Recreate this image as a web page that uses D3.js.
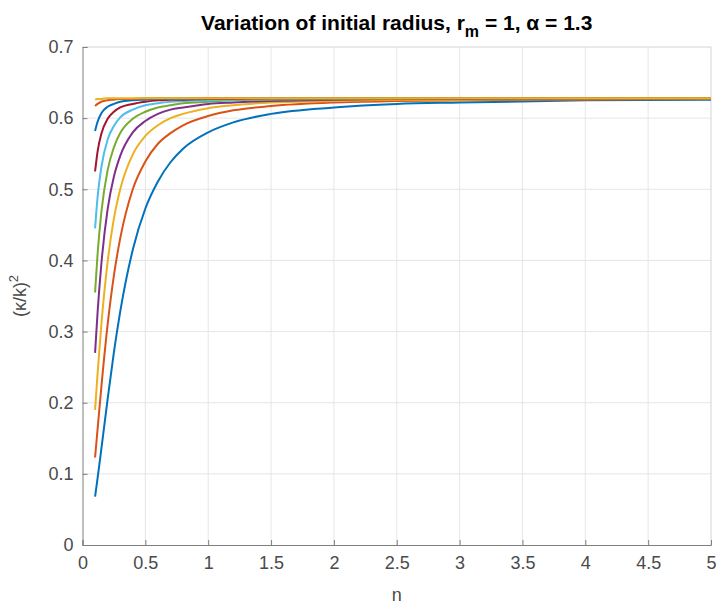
<!DOCTYPE html>
<html>
<head>
<meta charset="utf-8">
<script src="https://cdn.jsdelivr.net/npm/d3@7"></script>
<style>
  body { margin: 0; background: #fff; }
  svg { font-family: "Liberation Sans", Arial, sans-serif; }
</style>
</head>
<body>
<svg id="chart"></svg>
<script>
// n samples shared by every curve
const nValues = [0.1, 0.12, 0.15, 0.2, 0.25, 0.3, 0.4, 0.5, 0.6, 0.7, 0.8, 1.0, 1.2, 1.5, 2, 2.5, 3, 4, 5];

// (kappa/k)^2, one array per initial radius
const curve1  = [0.068, 0.094, 0.135, 0.205, 0.271, 0.328, 0.415, 0.473, 0.511, 0.538, 0.557, 0.580, 0.594, 0.606, 0.615, 0.620, 0.622, 0.625, 0.626];
const curve2  = [0.123, 0.163, 0.222, 0.310, 0.379, 0.431, 0.500, 0.539, 0.564, 0.579, 0.590, 0.603, 0.611, 0.617, 0.622, 0.624, 0.625, 0.626, 0.627];
const curve3  = [0.190, 0.241, 0.310, 0.398, 0.459, 0.500, 0.549, 0.575, 0.590, 0.600, 0.606, 0.614, 0.618, 0.622, 0.624, 0.626, 0.626, 0.627, 0.627];
const curve4  = [0.270, 0.327, 0.395, 0.472, 0.518, 0.547, 0.580, 0.596, 0.606, 0.612, 0.615, 0.620, 0.622, 0.624, 0.626, 0.627, 0.627, 0.628, 0.628];
const curve5  = [0.355, 0.409, 0.468, 0.527, 0.559, 0.579, 0.599, 0.609, 0.615, 0.618, 0.621, 0.623, 0.625, 0.626, 0.627, 0.627, 0.628, 0.628, 0.628];
const curve6  = [0.445, 0.489, 0.531, 0.570, 0.589, 0.601, 0.612, 0.618, 0.621, 0.623, 0.624, 0.625, 0.626, 0.627, 0.627, 0.628, 0.628, 0.628, 0.628];
const curve7  = [0.525, 0.553, 0.578, 0.599, 0.609, 0.615, 0.620, 0.623, 0.625, 0.626, 0.626, 0.627, 0.627, 0.628, 0.628, 0.628, 0.628, 0.628, 0.628];
const curve8  = [0.582, 0.595, 0.607, 0.616, 0.620, 0.623, 0.625, 0.626, 0.627, 0.627, 0.627, 0.628, 0.628, 0.628, 0.628, 0.628, 0.628, 0.628, 0.628];
const curve9  = [0.617, 0.620, 0.623, 0.625, 0.626, 0.627, 0.627, 0.628, 0.628, 0.628, 0.628, 0.628, 0.628, 0.628, 0.628, 0.628, 0.628, 0.628, 0.628];
const curve10 = [0.626, 0.627, 0.627, 0.628, 0.628, 0.628, 0.628, 0.628, 0.628, 0.628, 0.628, 0.628, 0.628, 0.628, 0.628, 0.628, 0.628, 0.628, 0.628];
const curves = [curve1, curve2, curve3, curve4, curve5, curve6, curve7, curve8, curve9, curve10];

// matlab default colour order
const colors = ["#0072BD", "#D95319", "#EDB120", "#7E2F8E", "#77AC30", "#4DBEEE", "#A2142F"];

const xTicks = [0, 0.5, 1, 1.5, 2, 2.5, 3, 3.5, 4, 4.5, 5];
const yTicks = [0, 0.1, 0.2, 0.3, 0.4, 0.5, 0.6, 0.7];

const canvWidth = 717;
const canvHeight = 606;
const margin = { top: 47, right: 6, bottom: 61, left: 82.5 };
const width = canvWidth - margin.left - margin.right;
const height = canvHeight - margin.top - margin.bottom;

const svg = d3.select("#chart")
    .attr("width", canvWidth)
    .attr("height", canvHeight);

const g = svg.append("g")
    .attr("transform", "translate(" + margin.left + "," + margin.top + ")");

const x = d3.scaleLinear().domain([0, 5]).range([0, width]);
const y = d3.scaleLinear().domain([0, 0.7]).range([height, 0]);

// grid
g.append("g").selectAll("line")
    .data(xTicks.slice(1, -1))
    .enter().append("line")
    .attr("x1", d => x(d)).attr("x2", d => x(d))
    .attr("y1", 0).attr("y2", height)
    .attr("stroke", "#e6e6e6").attr("stroke-width", 1);

g.append("g").selectAll("line")
    .data(yTicks.slice(1, -1))
    .enter().append("line")
    .attr("y1", d => y(d)).attr("y2", d => y(d))
    .attr("x1", 0).attr("x2", width)
    .attr("stroke", "#e6e6e6").attr("stroke-width", 1);

// top and right edges, light
g.append("line").attr("x1", 0).attr("x2", width).attr("y1", 0).attr("y2", 0)
    .attr("stroke", "#d4d4d4");
g.append("line").attr("x1", width).attr("x2", width).attr("y1", 0).attr("y2", height)
    .attr("stroke", "#d4d4d4");

// curves
const line = d3.line()
    .x((d, i) => x(nValues[i]))
    .y(d => y(d))
    .curve(d3.curveMonotoneX);

g.append("g").selectAll("path")
    .data(curves)
    .enter().append("path")
    .attr("d", d => line(d))
    .attr("fill", "none")
    .attr("stroke", (d, i) => colors[i % colors.length])
    .attr("stroke-width", 2);

// axes
const xAxis = g.append("g")
    .attr("transform", "translate(0," + height + ")")
    .call(d3.axisBottom(x).tickValues(xTicks).tickSize(-5).tickPadding(11).tickFormat(d3.format("")));
const yAxis = g.append("g")
    .call(d3.axisLeft(y).tickValues(yTicks).tickSize(-5).tickPadding(9).tickFormat(d3.format("")));

[xAxis, yAxis].forEach(a => {
    a.select(".domain").attr("stroke", "#7f7f7f");
    a.selectAll(".tick line").attr("stroke", "#7f7f7f");
    a.selectAll(".tick text").attr("fill", "#4a4a4a")
        .style("font-size", "18px").style("font-family", "Liberation Sans, Arial, sans-serif");
});

// labels
svg.append("text")
    .attr("x", margin.left + width / 2)
    .attr("y", 601)
    .attr("text-anchor", "middle")
    .attr("fill", "#4a4a4a")
    .style("font-size", "18px")
    .text("n");

const yl = svg.append("text")
    .attr("transform", "translate(26," + (margin.top + height / 2) + ") rotate(-90)")
    .attr("text-anchor", "middle")
    .attr("fill", "#4a4a4a")
    .style("font-size", "18px");
yl.append("tspan").text("(\u03BA/k)");
yl.append("tspan").attr("dy", -8).style("font-size", "13px").text("2");

const title = svg.append("text")
    .attr("x", margin.left + width / 2)
    .attr("y", 30)
    .attr("text-anchor", "middle")
    .attr("fill", "#000")
    .style("font-size", "21px")
    .style("font-weight", "bold");
title.append("tspan").text("Variation of initial radius, r");
title.append("tspan").attr("dy", 7).style("font-size", "16px").text("m");
title.append("tspan").attr("dy", -7).text(" = 1, \u03B1 = 1.3");
</script>
</body>
</html>
